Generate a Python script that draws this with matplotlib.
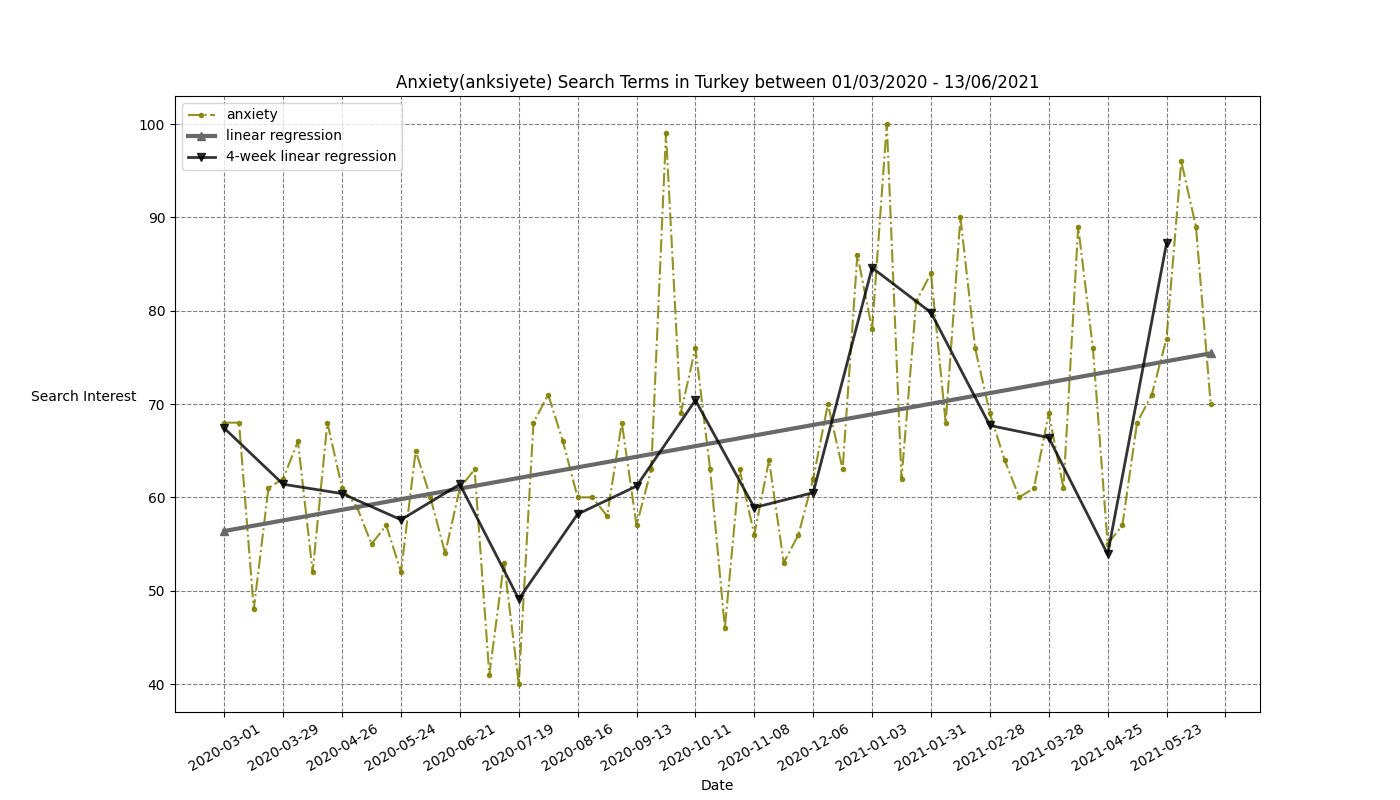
import matplotlib
matplotlib.use('Agg')
import matplotlib.pyplot as plt
import numpy as np
import pandas as pd

# weekly search interest, 2020-03-01 .. 2021-06-13
dates = pd.date_range('2020-03-01', '2021-06-13', freq='7D')
anxiety = [68, 68, 48, 61, 62, 66, 52, 68, 61, 59, 55, 57, 52, 65, 60, 54,
           61, 63, 41, 53, 40, 68, 71, 66, 60, 60, 58, 68, 57, 63, 99, 69,
           76, 63, 46, 63, 56, 64, 53, 56, 62, 70, 63, 86, 78, 100, 62, 81,
           84, 68, 90, 76, 69, 64, 60, 61, 69, 61, 89, 76, 55, 57, 68, 71,
           77, 96, 89, 70]

x = np.arange(len(anxiety))
y = np.array(anxiety, dtype=float)

# overall linear fit
coef = np.polyfit(x, y, 1)
reg_x = np.array([x[0], x[-1]])
reg_y = np.polyval(coef, reg_x)

# 4-week chunk fits, value at start of each chunk
week_x = []
week_y = []
for start in range(0, len(y), 4):
    cx = x[start:start + 4]
    c = np.polyfit(cx, y[start:start + 4], 1)
    week_x.append(start)
    week_y.append(np.polyval(c, start))

fig, ax = plt.subplots(figsize=(14, 8))
ax.plot(x, y, marker='.', linestyle='-.', color='olive', alpha=0.85,
        label='anxiety')
ax.plot(reg_x, reg_y, marker='^', color='dimgray', linewidth=3,
        label='linear regression')
ax.plot(week_x, week_y, marker='v', color='black', alpha=0.8, linewidth=2,
        label='4-week linear regression')

ticks = list(range(0, len(y) + 1, 4))
labels = [dates[t].strftime('%Y-%m-%d') if t < len(dates) else '' for t in ticks]
ax.set_xticks(ticks)
ax.set_xticklabels(labels, rotation=30)

ax.grid(True, linestyle='--', color='gray')
ax.set_title('Anxiety(anksiyete) Search Terms in Turkey between 01/03/2020 - 13/06/2021')
ax.set_xlabel('Date')
ax.set_ylabel('Search Interest', rotation=0, ha='right', labelpad=2)
ax.legend(loc='upper left')

plt.savefig('out.png')
